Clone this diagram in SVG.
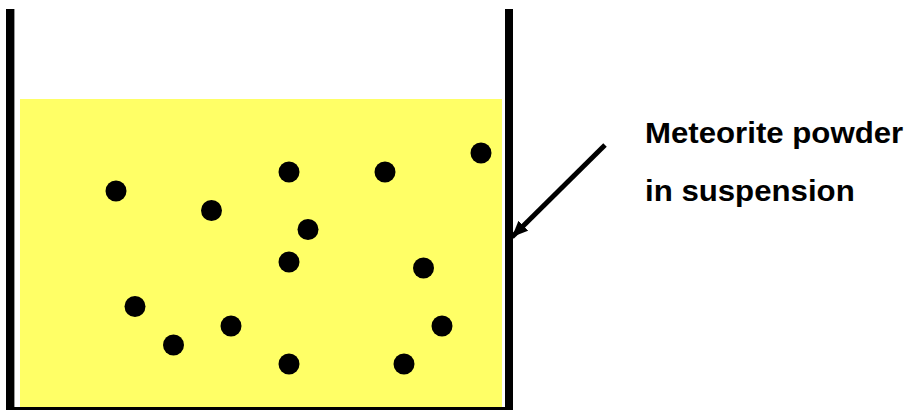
<svg xmlns="http://www.w3.org/2000/svg" width="913" height="410" viewBox="0 0 913 410">
<style>
.wall{fill:#000;}
.dot{fill:#000;}
.label{font-family:"Liberation Sans",Arial,sans-serif;font-weight:bold;font-size:30px;fill:#000;}
</style>
<defs>
<marker id="ah" markerUnits="userSpaceOnUse" markerWidth="18" markerHeight="16" refX="16" refY="7" orient="auto">
<path d="M0,0 L16,7 L0,14 Z" fill="#000"/>
</marker>
</defs>
<g id="beaker">
<rect x="20" y="99" width="482" height="308" fill="#FFFF66"/>
<rect class="wall" x="6" y="9" width="8" height="401"/>
<rect x="14" y="9" width="1" height="398" fill="#999"/>
<rect class="wall" x="505" y="9" width="8" height="401"/>
<rect class="wall" x="6" y="407" width="507" height="3"/>
</g>
<g id="particles">
<circle class="dot" cx="116" cy="191" r="10.5"/>
<circle class="dot" cx="211.5" cy="210.5" r="10.5"/>
<circle class="dot" cx="289" cy="172" r="10.5"/>
<circle class="dot" cx="308" cy="229.5" r="10.5"/>
<circle class="dot" cx="385" cy="172" r="10.5"/>
<circle class="dot" cx="481" cy="153" r="10.5"/>
<circle class="dot" cx="289" cy="262" r="10.5"/>
<circle class="dot" cx="423.5" cy="268" r="10.5"/>
<circle class="dot" cx="135" cy="306.5" r="10.5"/>
<circle class="dot" cx="231" cy="326" r="10.5"/>
<circle class="dot" cx="442" cy="326" r="10.5"/>
<circle class="dot" cx="173.5" cy="345" r="10.5"/>
<circle class="dot" cx="289" cy="364" r="10.5"/>
<circle class="dot" cx="404" cy="364" r="10.5"/>
</g>
<g id="connectors">
<line x1="605" y1="145" x2="512" y2="237" stroke="#000" stroke-width="5" marker-end="url(#ah)"/>
</g>
<g id="label" transform="translate(645,0) scale(1.04,1)">
<text class="label" x="0" y="143">Meteorite powder</text>
<text class="label" x="0" y="201">in suspension</text>
</g>
</svg>
